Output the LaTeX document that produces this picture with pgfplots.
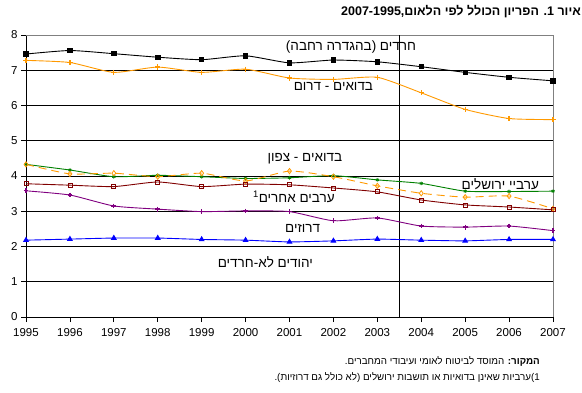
\documentclass[border=0pt]{standalone}
\usepackage{fontspec}
\setmainfont{Liberation Sans}
\newfontfamily\heb[Script=Hebrew]{Liberation Sans}
\usepackage{pgfplots}
\pgfplotsset{compat=1.18}
\TeXXeTstate=1
\definecolor{cOrange}{RGB}{255,153,0}
\definecolor{cGreen}{RGB}{0,128,0}
\definecolor{cMaroon}{RGB}{128,0,0}
\definecolor{cPurple}{RGB}{128,0,128}
\definecolor{cBlue}{RGB}{0,0,255}
\definecolor{cGray}{RGB}{128,128,128}
\begin{document}
\begin{tikzpicture}[x=1pt,y=1pt]
\begin{axis}[
  at={(26pt,75pt)}, anchor=south west,
  scale only axis, width=527pt, height=282pt,
  xmin=1995, xmax=2007, ymin=0, ymax=8,
  axis x line*=bottom, axis y line*=left,
  axis line style={black, line width=0.9pt, -},
  xtick={1995,...,2007}, ytick={0,...,8},
  tick align=outside, major tick length=5pt,
  tick style={black, line width=0.8pt},
  ymajorgrids, grid style={black, line width=0.9pt},
  /pgf/number format/assume math mode=true,
  /pgf/number format/1000 sep={},
  ticklabel style={font=\fontsize{11.5}{13}\selectfont},
  xticklabel style={yshift=-3pt},
  clip=false,
  every axis plot/.append style={line width=0.9pt, smooth, tension=0.35},
]
\draw[cGray, line width=0.9pt] (axis cs:1995,8) -- (axis cs:2007,8) -- (axis cs:2007,0);
\draw[black, line width=0.9pt] (axis cs:2003.5,0) -- (axis cs:2003.5,8);
% Haredim
\addplot[black, mark=square*, mark size=2.2pt] coordinates {
(1995,7.46)(1996,7.56)(1997,7.47)(1998,7.37)(1999,7.30)(2000,7.41)(2001,7.21)(2002,7.29)(2003,7.24)(2004,7.10)(2005,6.94)(2006,6.80)(2007,6.70)};
% Bedouin south
\addplot[cOrange, mark=+, mark size=2.6pt, mark options={line width=1.2pt}] coordinates {
(1995,7.28)(1996,7.22)(1997,6.94)(1998,7.09)(1999,6.94)(2000,7.03)(2001,6.78)(2002,6.74)(2003,6.80)(2004,6.36)(2005,5.89)(2006,5.63)(2007,5.60)};
% Arab Jerusalem
\addplot[cGreen, mark=asterisk, mark size=1.8pt, mark options={line width=0.8pt}] coordinates {
(1995,4.33)(1996,4.17)(1997,3.98)(1998,4.02)(1999,3.98)(2000,3.93)(2001,3.95)(2002,4.01)(2003,3.89)(2004,3.79)(2005,3.57)(2006,3.56)(2007,3.57)};
% Bedouin north
\addplot[cOrange, dash pattern=on 8pt off 5pt, mark=diamond, mark size=2.6pt, mark options={solid, fill=white, line width=0.8pt}] coordinates {
(1995,4.33)(1996,4.06)(1997,4.08)(1998,3.98)(1999,4.08)(2000,3.86)(2001,4.14)(2002,3.98)(2003,3.72)(2004,3.51)(2005,3.40)(2006,3.43)(2007,3.07)};
% Other Arabs
\addplot[cMaroon, mark=square, mark size=2pt, mark options={fill=white, line width=0.8pt}] coordinates {
(1995,3.78)(1996,3.74)(1997,3.70)(1998,3.83)(1999,3.70)(2000,3.77)(2001,3.75)(2002,3.66)(2003,3.55)(2004,3.32)(2005,3.18)(2006,3.12)(2007,3.04)};
% Druze
\addplot[cPurple, mark=+, mark size=2.4pt, mark options={line width=1.3pt}] coordinates {
(1995,3.58)(1996,3.46)(1997,3.15)(1998,3.06)(1999,2.99)(2000,3.01)(2001,2.99)(2002,2.73)(2003,2.81)(2004,2.58)(2005,2.55)(2006,2.58)(2007,2.45)};
% Non-Haredi Jews
\addplot[cBlue, mark=triangle*, mark size=2.6pt] coordinates {
(1995,2.18)(1996,2.21)(1997,2.24)(1998,2.24)(1999,2.20)(2000,2.18)(2001,2.13)(2002,2.16)(2003,2.21)(2004,2.18)(2005,2.16)(2006,2.20)(2007,2.20)};
\begin{scope}[every node/.style={font=\heb\fontsize{13.5}{15}\selectfont, inner sep=0pt}]
\node at (axis cs:2002.4,7.66) {\beginR חרדים (בהגדרה רחבה)\endR};
\node at (axis cs:2002.0,6.53) {\beginR בדואים - דרום\endR};
\node at (axis cs:2001.35,4.48) {\beginR בדואים - צפון\endR};
\node at (axis cs:2005.8,3.77) {\beginR ערביי ירושלים\endR};
\node at (axis cs:2001.1,3.40) {\beginR ערבים אחרים\textsuperscript{1}\endR};
\node at (axis cs:2001.3,2.50) {\beginR דרוזים\endR};
\node at (axis cs:2000.45,1.56) {\beginR יהודים לא-חרדים\endR};
\end{scope}
\end{axis}
\node[anchor=east, inner sep=0pt, font=\heb\bfseries\fontsize{12.5}{14}\selectfont] at (581pt,380pt) {\beginR איור 1. הפריון הכולל לפי הלאום,\beginL2007-1995\endL\endR};
\node[anchor=east, inner sep=0pt, font=\heb\fontsize{9.8}{11}\selectfont] at (540pt,31pt) {\beginR\textbf{המקור:} המוסד לביטוח לאומי ועיבודי המחברים.\endR};
\node[anchor=east, inner sep=0pt, font=\heb\fontsize{9.8}{11}\selectfont] at (540pt,14pt) {\beginR 1)ערביות שאינן בדואיות או תושבות ירושלים (לא כולל גם דרוזיות).\endR};
\pgfresetboundingbox
\useasboundingbox (0,0) rectangle (582pt,392pt);
\end{tikzpicture}
\end{document}
